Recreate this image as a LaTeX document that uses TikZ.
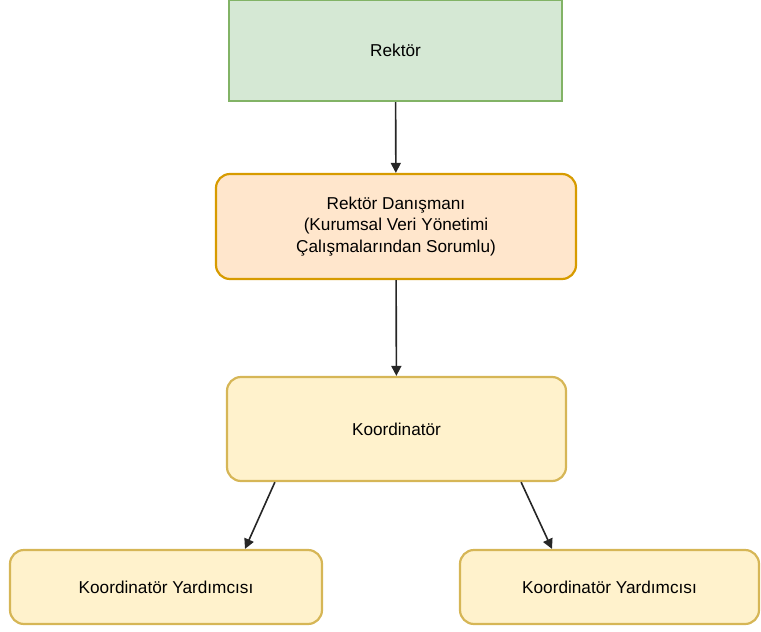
\documentclass[tikz,border=0pt]{standalone}
\usepackage{fontspec}
\setmainfont{Liberation Sans}
\usetikzlibrary{arrows.meta}

\definecolor{yesilfill}{HTML}{D5E8D4}
\definecolor{yesilline}{HTML}{82B366}
\definecolor{turuncufill}{HTML}{FFE6CC}
\definecolor{turunculine}{HTML}{D79B00}
\definecolor{sarifill}{HTML}{FFF2CC}
\definecolor{sariline}{HTML}{D6B656}

\tikzset{
	kutu/.style={draw, line width=2.2pt, align=center, inner sep=0pt,
		font=\fontsize{17.2}{21.5}\selectfont},
	yesilkutu/.style={kutu, draw=yesilline, fill=yesilfill},
	turuncukutu/.style={kutu, draw=turunculine, fill=turuncufill, rounded corners=14pt},
	sarikutu/.style={kutu, draw=sariline, fill=sarifill, rounded corners=14pt},
	ok/.style={-{Triangle[width=10pt,length=10pt]}, line width=1.6pt, black!85}
}

\begin{document}
\begin{tikzpicture}[x=1pt,y=-1pt]
	%sinirlar
	\useasboundingbox (0,0) rectangle (761,632);

	%kutular
	\node[yesilkutu, minimum width=333pt, minimum height=101pt] (rektor)
		at (395.5,50.5) {Rektör};
	\node[turuncukutu, minimum width=360pt, minimum height=105pt] (danisman)
		at (396,226.5) {Rektör Danışmanı\\(Kurumsal Veri Yönetimi\\Çalışmalarından Sorumlu)};
	\node[sarikutu, minimum width=339pt, minimum height=104pt] (koord)
		at (396.5,429) {Koordinatör};
	\node[sarikutu, minimum width=312pt, minimum height=74pt] (yardA)
		at (166,587) {Koordinatör Yardımcısı};
	\node[sarikutu, minimum width=299pt, minimum height=74pt] (yardB)
		at (609.5,587) {Koordinatör Yardımcısı};

	%oklar
	\draw[ok] (rektor) -- (danisman);
	\draw[ok] (danisman) -- (koord);
	\draw[ok] ([xshift=49pt]koord.south west) -- ([xshift=79pt]yardA.north);
	\draw[ok] ([xshift=-46pt]koord.south east) -- ([xshift=-57.5pt]yardB.north);
\end{tikzpicture}
\end{document}
